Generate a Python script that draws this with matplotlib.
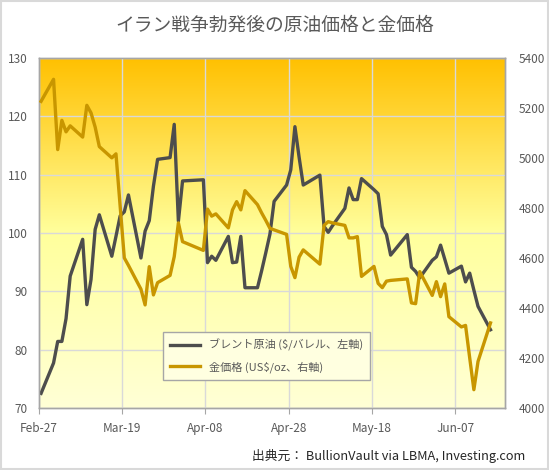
# Brent oil vs gold price after the Iran war outbreak
import matplotlib
matplotlib.use("Agg")
import matplotlib.pyplot as plt
import matplotlib.dates as mdates
from matplotlib.colors import LinearSegmentedColormap
from matplotlib.patches import Rectangle
import numpy as np
import pandas as pd

plt.rcParams['font.family'] = ['Noto Sans CJK JP', 'DejaVu Sans']

dates = [
    "2026-02-27",
    "2026-03-02", "2026-03-03", "2026-03-04", "2026-03-05", "2026-03-06",
    "2026-03-09", "2026-03-10", "2026-03-11", "2026-03-12", "2026-03-13",
    "2026-03-16", "2026-03-17", "2026-03-18", "2026-03-19", "2026-03-20",
    "2026-03-23", "2026-03-24", "2026-03-25", "2026-03-26", "2026-03-27",
    "2026-03-30", "2026-03-31", "2026-04-01", "2026-04-02",
    "2026-04-07", "2026-04-08", "2026-04-09", "2026-04-10",
    "2026-04-13", "2026-04-14", "2026-04-15", "2026-04-16", "2026-04-17",
    "2026-04-20", "2026-04-21", "2026-04-22", "2026-04-23", "2026-04-24",
    "2026-04-27", "2026-04-28", "2026-04-29", "2026-04-30", "2026-05-01",
    "2026-05-05", "2026-05-06", "2026-05-07", "2026-05-08",
    "2026-05-11", "2026-05-12", "2026-05-13", "2026-05-14", "2026-05-15",
    "2026-05-18", "2026-05-19", "2026-05-20", "2026-05-21", "2026-05-22",
    "2026-05-26", "2026-05-27", "2026-05-28", "2026-05-29",
    "2026-06-01", "2026-06-02", "2026-06-03", "2026-06-04", "2026-06-05",
    "2026-06-08", "2026-06-09", "2026-06-10", "2026-06-11", "2026-06-12",
    "2026-06-15",
]

# ブレント原油 ($/バレル)
brent = [
    72.5,
    77.7, 81.4, 81.4, 85.3, 92.6,
    98.9, 87.7, 92.0, 100.6, 103.1,
    96.0, 99.4, 102.9, 103.6, 106.5,
    95.7, 100.3, 102.1, 108.0, 112.6,
    112.9, 118.6, 102.0, 108.9,
    109.1, 94.9, 96.0, 95.3,
    99.4, 94.9, 95.0, 99.4, 90.6,
    90.6, 93.5, 96.6, 99.8, 105.4,
    108.2, 110.8, 118.2, 113.0, 108.2,
    109.9, 101.1, 100.1, 101.2,
    104.2, 107.7, 105.7, 105.7, 109.3,
    107.4, 106.7, 101.1, 99.7, 96.2,
    99.7, 94.1, 93.4, 92.3,
    95.3, 95.9, 97.9, 95.5, 93.1,
    94.3, 91.6, 93.1, 90.2, 87.4,
    83.4,
]

# 金価格 (US$/oz)
gold = [
    5226,
    5314, 5033, 5150, 5104, 5128,
    5083, 5210, 5180, 5123, 5045,
    5000, 5016, 4808, 4600, 4570,
    4475, 4412, 4565, 4452, 4501,
    4530, 4605, 4740, 4665,
    4630, 4795, 4767, 4776,
    4720, 4792, 4825, 4792, 4869,
    4813, 4780, 4750, 4718, 4712,
    4694, 4566, 4521, 4603, 4632,
    4575, 4730, 4745, 4740,
    4730, 4680, 4680, 4685, 4526,
    4566, 4498, 4481, 4507, 4510,
    4516, 4420, 4417, 4545,
    4450, 4505, 4445, 4496, 4365,
    4324, 4330, 4200, 4073, 4186,
    4340,
]

tick_dates = ["2026-02-27", "2026-03-19", "2026-04-08",
              "2026-04-28", "2026-05-18", "2026-06-07"]

x = pd.to_datetime(dates) + pd.Timedelta(hours=12)
start = pd.Timestamp("2026-02-27")
end = start + pd.Timedelta(days=112)

fig = plt.figure(figsize=(5.49, 4.70), dpi=100)
ax = fig.add_axes([0.071, 0.132, 0.849, 0.745])
ax2 = ax.twinx()

# gradient background
cmap = LinearSegmentedColormap.from_list(
    "bg", [(0.0, "#FFFFD6"), (0.5, "#FFFF9C"), (1.0, "#FFC000")])
grad = np.linspace(0, 1, 256).reshape(-1, 1)
ax.imshow(grad, aspect="auto", cmap=cmap, origin="lower",
          extent=[0, 1, 0, 1], transform=ax.transAxes, zorder=0)

oil_color = "#4D4D4D"
gold_color = "#C89600"

l1, = ax.plot(x, brent, color=oil_color, lw=2.4, zorder=3,
              label="ブレント原油 ($/バレル、左軸)")
l2, = ax2.plot(x, gold, color=gold_color, lw=2.4, zorder=3,
               label="金価格 (US$/oz、右軸)")

ax.set_xlim(start, end)
ax.set_ylim(70, 130)
ax.set_yticks(range(70, 131, 10))
ax2.set_ylim(4000, 5400)
ax2.set_yticks(range(4000, 5401, 200))

ax.set_xticks(pd.to_datetime(tick_dates))
ax.xaxis.set_major_formatter(mdates.DateFormatter("%b-%d"))

ax.grid(True, color="#D9D9D9", lw=1)
ax.set_axisbelow(False)
for gl in ax.get_xgridlines() + ax.get_ygridlines():
    gl.set_zorder(1)

for a in (ax, ax2):
    for s in a.spines.values():
        s.set_color("#A6A6A6")
        s.set_linewidth(1)
    a.tick_params(colors="#595959", labelsize=8.5)

ax.tick_params(axis="y", length=0, pad=8)
ax2.tick_params(axis="y", length=0, pad=10)
ax.tick_params(axis="x", length=4, color="#A6A6A6", pad=6)

leg = ax2.legend(handles=[l1, l2], loc="upper left",
                 bbox_to_anchor=(0.255, 0.232), fontsize=8,
                 frameon=True, fancybox=False, handlelength=2.7,
                 borderpad=0.6, labelspacing=0.9)
leg.get_frame().set_edgecolor("#A6A6A6")
leg.get_frame().set_facecolor("#FFFFE0")
leg.get_frame().set_alpha(1)
for t in leg.get_texts():
    t.set_color("#595959")

fig.text(0.5, 0.947, "イラン戦争勃発後の原油価格と金価格",
         ha="center", va="center", fontsize=13.5, color="#595959")
fig.text(0.957, 0.03, "出典元： BullionVault via LBMA, Investing.com",
         ha="right", va="center", fontsize=9.2, color="#262626")

fig.patches.append(Rectangle((0.002, 0.002), 0.996, 0.996,
                             transform=fig.transFigure, fill=False,
                             edgecolor="#D9D9D9", lw=1.5))

fig.savefig("out.png", dpi=100)
